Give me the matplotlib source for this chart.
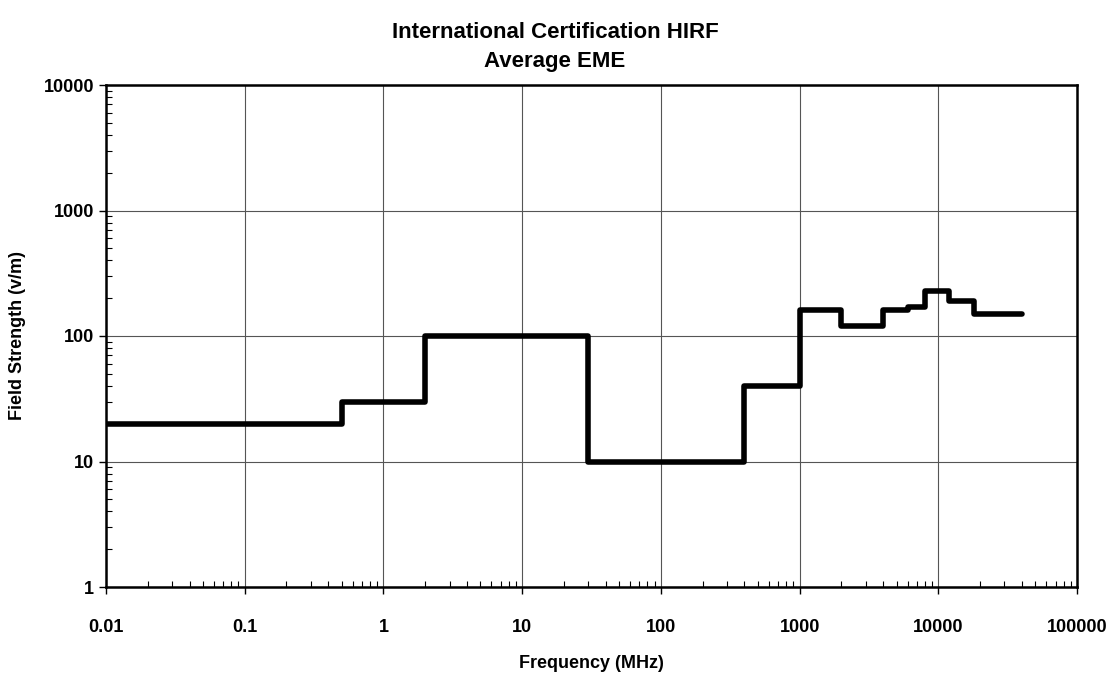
import matplotlib
matplotlib.use("Agg")
import matplotlib.pyplot as plt
import numpy as np

plt.rcParams['font.family'] = ['Liberation Sans', 'DejaVu Sans']

# band edges (MHz) and average field strength (V/m)
freq_edges = [0.01, 0.5, 2, 30, 400, 1000, 2000, 4000, 6000, 8000, 12000, 18000, 40000]
field_avg = [20, 30, 100, 10, 40, 160, 120, 160, 170, 230, 190, 150]

x = np.array(freq_edges)
y = np.array(field_avg + [field_avg[-1]])

fig = plt.figure(figsize=(11.1, 6.75), dpi=100)
ax = fig.add_axes([106 / 1110, 1 - 587 / 675, (1077 - 106) / 1110, (587 - 85) / 675])

ax.step(x, y, where='post', color='black', linewidth=4, solid_capstyle='round')

ax.set_xscale('log')
ax.set_yscale('log')
ax.set_xlim(0.01, 100000)
ax.set_ylim(1, 10000)

xt = [0.01, 0.1, 1, 10, 100, 1000, 10000, 100000]
ax.set_xticks(xt)
ax.set_xticklabels(['0.01', '0.1', '1', '10', '100', '1000', '10000', '100000'])
yt = [1, 10, 100, 1000, 10000]
ax.set_yticks(yt)
ax.set_yticklabels(['1', '10', '100', '1000', '10000'])

ax.grid(True, which='major', color='#555555', linewidth=0.8)
ax.tick_params(axis='both', which='major', labelsize=13, length=5, direction='out', width=1)
ax.tick_params(axis='both', which='minor', length=4, direction='in', width=0.8)
ax.tick_params(axis='x', pad=18)
for lbl in ax.get_xticklabels() + ax.get_yticklabels():
    lbl.set_fontweight('bold')

for s in ax.spines.values():
    s.set_linewidth(1.8)
    s.set_color('black')

fig.text(591 / 1110, 1 - 663 / 675, 'Frequency (MHz)', ha='center', va='center',
         fontsize=13, fontweight='bold')
fig.text(18 / 1110, 1 - 336 / 675, 'Field Strength (v/m)', ha='center', va='center',
         fontsize=13, fontweight='bold', rotation=90)
fig.text(0.5, 1 - 32 / 675, 'International Certification HIRF', ha='center', va='center',
         fontsize=16, fontweight='bold')
fig.text(0.5, 1 - 61 / 675, 'Average EME', ha='center', va='center',
         fontsize=16, fontweight='bold')

fig.savefig('out.png', dpi=100)
